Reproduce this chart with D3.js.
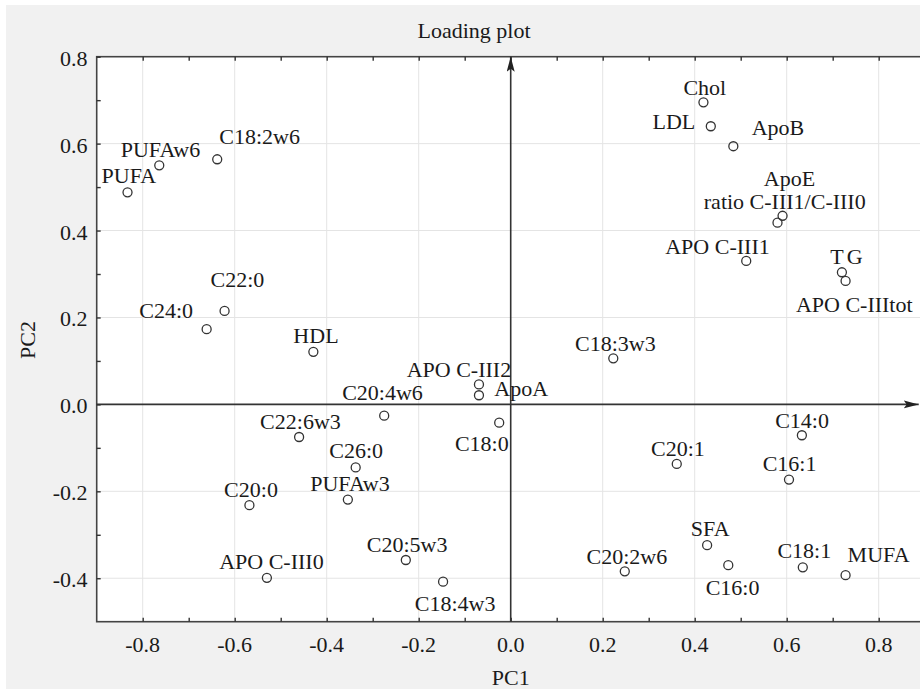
<!DOCTYPE html>
<html>
<head>
<meta charset="utf-8">
<script src="https://cdn.jsdelivr.net/npm/d3@7"></script>
<style>
  body { margin: 0; background: #fff; }
  text { font-family: "Liberation Serif", "Times New Roman", serif; fill: #1a1a1a; }
</style>
</head>
<body>
<div id="chart"></div>
<script>
var width  = 920;
var height = 689;

// loadings
var names = ["PUFA","PUFAw6","C18:2w6","C22:0","C24:0","HDL","Chol","LDL","ApoB","ApoE",
             "ratio C-III1/C-III0","APO C-III1","TG","APO C-IIItot","C18:3w3","APO C-III2","ApoA","C18:0",
             "C20:4w6","C22:6w3","C26:0","PUFAw3","C20:0","APO C-III0","C20:5w3","C18:4w3",
             "C14:0","C20:1","C16:1","SFA","C20:2w6","C16:0","C18:1","MUFA"];
var pc1 = [-0.833,-0.764,-0.638,-0.622,-0.661,-0.429,0.419,0.435,0.484,0.591,
           0.580,0.512,0.720,0.728,0.223,-0.069,-0.069,-0.025,
           -0.275,-0.460,-0.337,-0.354,-0.568,-0.530,-0.228,-0.147,
           0.633,0.361,0.605,0.427,0.248,0.473,0.635,0.728];
var pc2 = [0.488,0.550,0.564,0.215,0.173,0.121,0.695,0.640,0.594,0.434,
           0.418,0.330,0.304,0.284,0.106,0.046,0.021,-0.042,
           -0.026,-0.075,-0.145,-0.219,-0.232,-0.399,-0.358,-0.408,
           -0.071,-0.137,-0.173,-0.324,-0.384,-0.370,-0.375,-0.393];

var xTicks = [-0.8,-0.6,-0.4,-0.2,0.0,0.2,0.4,0.6,0.8];
var yTicks = [-0.4,-0.2,0.0,0.2,0.4,0.6,0.8];

// label placement, px from the point (start of text, baseline)
var labelDx = [-26,-38.6,2,-14,-67.4,-20,-20,-58.3,18.4,-18.7,
               -73.7,-81,-11.7,-49.7,-38.3,-72.3,15.3,-44.3,
               -42,-39,-26.4,-37.7,-25.3,-47.7,-39,-28.3,
               -26.7,-25.7,-26.3,-16.3,-38.3,-22.6,-25.4,2];
var labelDy = [-9,-8.6,-15,-24,-11,-8.7,-7.3,3,-11.3,-30,
               -13.7,-7.4,-8,30.7,-7.6,-7.6,1,28.3,
               -15.7,-8.4,-9.6,-8.6,-8.3,-8.7,-8.3,29,
               -7.3,-8,-8.3,-9,-7.7,29.3,-9,-12.7];

var plotLeft = 96.7, plotTop = 56.7, plotBottom = 621.7, plotRight = 924.7;

var x = d3.scaleLinear().domain([-0.9, 0.9]).range([plotLeft, plotRight]);
var y = d3.scaleLinear().domain([-0.5, 0.8]).range([plotBottom, plotTop]);

var svg = d3.select("#chart").append("svg")
    .attr("width", width)
    .attr("height", height);

svg.append("rect")
    .attr("x", 0).attr("y", 0)
    .attr("width", width).attr("height", height)
    .attr("fill", "#ffffff");

svg.append("rect")
    .attr("x", 6).attr("y", 5)
    .attr("width", width - 6).attr("height", height - 5)
    .attr("fill", "#f1f1f1");

svg.append("rect")
    .attr("x", plotLeft).attr("y", plotTop)
    .attr("width", plotRight - plotLeft).attr("height", plotBottom - plotTop)
    .attr("fill", "#ffffff");

// ------------- grid -----------------
var grid = svg.append("g");
grid.selectAll("line.gx")
    .data(xTicks.filter(function(d){ return d != 0; }))
    .enter().append("line")
    .attr("x1", function(d){ return x(d); })
    .attr("x2", function(d){ return x(d); })
    .attr("y1", plotTop).attr("y2", plotBottom)
    .attr("stroke", "#e4e4e4").attr("stroke-width", 1);

grid.selectAll("line.gy")
    .data(yTicks.filter(function(d){ return d != 0 && d != 0.8; }))
    .enter().append("line")
    .attr("y1", function(d){ return y(d); })
    .attr("y2", function(d){ return y(d); })
    .attr("x1", plotLeft).attr("x2", plotRight)
    .attr("stroke", "#e4e4e4").attr("stroke-width", 1);

// ------------- frame and ticks -----------------
svg.append("rect")
    .attr("x", plotLeft).attr("y", plotTop)
    .attr("width", plotRight - plotLeft).attr("height", plotBottom - plotTop)
    .attr("fill", "none")
    .attr("stroke", "#444").attr("stroke-width", 1.6);

var xAxisB = d3.axisBottom(x).tickValues(d3.range(-0.8, 0.95, 0.1)).tickSize(-4).tickFormat("");
var xAxisT = d3.axisTop(x).tickValues(d3.range(-0.8, 0.95, 0.1)).tickSize(-4).tickFormat("");
var yAxisL = d3.axisLeft(y).tickValues(d3.range(-0.4, 0.85, 0.1)).tickSize(-4).tickFormat("");

[svg.append("g").attr("transform", "translate(0," + plotBottom + ")").call(xAxisB),
 svg.append("g").attr("transform", "translate(0," + plotTop + ")").call(xAxisT),
 svg.append("g").attr("transform", "translate(" + plotLeft + ",0)").call(yAxisL)]
  .forEach(function(g){
    g.select(".domain").remove();
    g.selectAll("line").attr("stroke", "#333").attr("stroke-width", 1.4);
  });

// tick labels
svg.selectAll("text.xt")
    .data(xTicks)
    .enter().append("text")
    .attr("x", function(d){ return x(d); })
    .attr("y", 652)
    .attr("text-anchor", "middle")
    .style("font-size", "22px")
    .text(function(d){ return d3.format(".1f")(d).replace("−", "-"); });

svg.selectAll("text.yt")
    .data(yTicks)
    .enter().append("text")
    .attr("x", 87.5)
    .attr("y", function(d){ return y(d) + 9; })
    .attr("text-anchor", "end")
    .style("font-size", "22px")
    .text(function(d){ return d3.format(".1f")(d).replace("−", "-"); });

// ------------- titles -----------------
svg.append("text")
    .attr("x", 474).attr("y", 38)
    .attr("text-anchor", "middle")
    .style("font-size", "22px")
    .text("Loading plot");

svg.append("text")
    .attr("x", x(0)).attr("y", 685)
    .attr("text-anchor", "middle")
    .style("font-size", "22px")
    .text("PC1");

svg.append("text")
    .attr("transform", "translate(35,340) rotate(-90)")
    .attr("text-anchor", "middle")
    .style("font-size", "22px")
    .text("PC2");

// ------------- zero axes with arrows -----------------
var defs = svg.append("defs");
defs.append("marker")
    .attr("id", "arrow")
    .attr("markerUnits", "userSpaceOnUse")
    .attr("markerWidth", 16).attr("markerHeight", 10)
    .attr("refX", 15).attr("refY", 4)
    .attr("orient", "auto")
  .append("path")
    .attr("d", "M0,0 L15,4 L0,8 L3,4 Z")
    .attr("fill", "#222");

svg.append("line")
    .attr("x1", x(-0.9)).attr("y1", y(0))
    .attr("x2", x(0.887)).attr("y2", y(0))
    .attr("stroke", "#333").attr("stroke-width", 1.6)
    .attr("marker-end", "url(#arrow)");

svg.append("line")
    .attr("x1", x(0)).attr("y1", y(-0.5))
    .attr("x2", x(0)).attr("y2", y(0.8))
    .attr("stroke", "#333").attr("stroke-width", 1.6)
    .attr("marker-end", "url(#arrow)");

// ------------- points and labels -----------------
var idx = d3.range(names.length);

svg.append("g").selectAll("circle")
    .data(idx)
    .enter().append("circle")
    .attr("cx", function(i){ return x(pc1[i]); })
    .attr("cy", function(i){ return y(pc2[i]); })
    .attr("r", 4.5)
    .attr("fill", "none")
    .attr("stroke", "#333")
    .attr("stroke-width", 1.3);

svg.append("g").selectAll("text")
    .data(idx)
    .enter().append("text")
    .attr("x", function(i){ return x(pc1[i]) + labelDx[i]; })
    .attr("y", function(i){ return y(pc2[i]) + labelDy[i]; })
    .style("font-size", "22px")
    .style("letter-spacing", function(i){ return names[i] == "TG" ? "3px" : null; })
    .text(function(i){ return names[i]; });
</script>
</body>
</html>
